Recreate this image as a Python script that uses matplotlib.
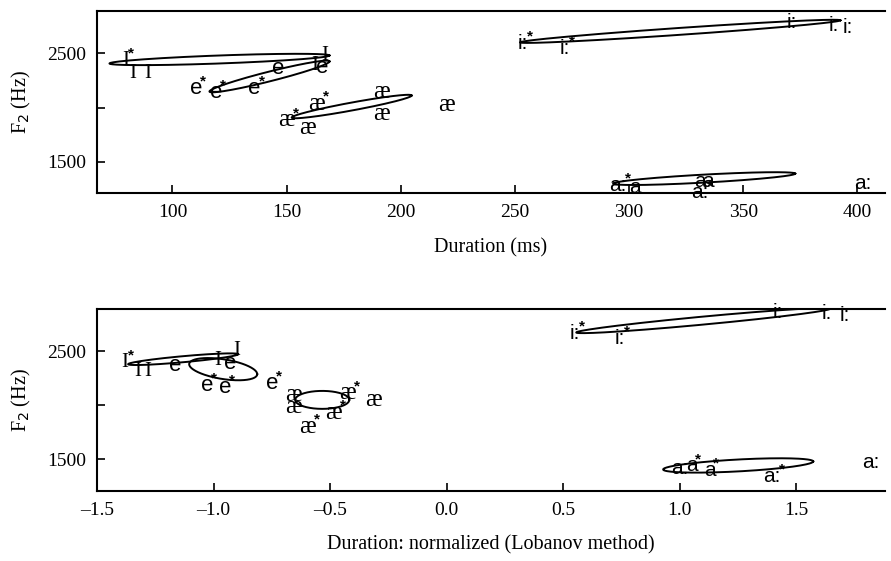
import numpy as np
import matplotlib.pyplot as plt

plt.rcParams['font.family'] = ['Liberation Serif', 'DejaVu Serif']

# top panel: vowel tokens (label, duration ms, F2 Hz, starred)
top_lab = ['I', 'I', 'I', 'I', 'I', 'e', 'e', 'e', 'e', 'e',
           'æ', 'æ', 'æ', 'æ', 'æ', 'æ',
           'i:', 'i:', 'i:', 'i:', 'i:',
           'a:', 'a', 'a', 'a', 'a:', 'a:']
top_x = [79.4, 82.5, 89.0, 166.7, 162.3, 165.8, 146.1, 110.5, 119.3, 136.0,
         163.2, 191.7, 191.7, 220.2, 150.0, 159.2,
         253.5, 272.0, 371.5, 389.5, 395.6,
         295.2, 302.5, 331.1, 334.6, 331.1, 402.6]
top_y = [2435, 2315, 2315, 2481, 2389, 2370, 2361, 2176, 2139, 2176,
         2037, 2139, 1944, 2019, 1880, 1815,
         2593, 2546, 2787, 2759, 2741,
         1278, 1265, 1320, 1320, 1210, 1296]
top_star = [1, 0, 0, 0, 0, 0, 0, 1, 1, 1,
            1, 0, 0, 0, 1, 0,
            1, 1, 0, 0, 0,
            1, 0, 0, 0, 1, 0]

# top panel ellipses: centre, half major axis vector, half height
top_ell_cx = [120.6, 142.5, 178.5, 322.4, 332.9]
top_ell_cy = [2444, 2287, 2009, 2704, 1343]
top_ell_ax = [48.2, 26.3, 26.3, 70.2, 39.9]
top_ell_ay = [37, 139, 102, 102, 46]
top_ell_h = [37, 46, 37, 32, 37]

# bottom panel: normalized duration
bot_lab = ['I', 'I', 'I', 'e', 'I', 'e', 'I', 'e', 'e', 'e',
           'æ', 'æ', 'æ', 'æ', 'æ', 'æ',
           'i:', 'i:', 'i:', 'i:', 'i:',
           'a:', 'a', 'a', 'a:', 'a:']
bot_x = [-1.380, -1.324, -1.281, -1.165, -0.981, -0.929, -0.899, -1.028, -0.951, -0.749,
         -0.659, -0.427, -0.315, -0.659, -0.487, -0.599,
         0.552, 0.745, 1.423, 1.633, 1.710,
         1.002, 1.054, 1.130, 1.397, 1.818]
bot_y = [2399, 2317, 2317, 2372, 2417, 2390, 2509, 2188, 2170, 2207,
         2097, 2115, 2051, 1986, 1931, 1803,
         2665, 2619, 2858, 2848, 2830,
         1420, 1440, 1395, 1345, 1473]
bot_star = [1, 0, 0, 0, 0, 0, 0, 1, 1, 1,
            0, 1, 0, 0, 1, 1,
            1, 1, 0, 0, 0,
            0, 1, 1, 1, 0]

bot_ell_cx = [-1.131, -0.959, -0.534, 1.101, 1.251]
bot_ell_cy = [2427, 2335, 2051, 2784, 1445]
bot_ell_ax = [0.236, 0.146, 0.116, 0.545, 0.322]
bot_ell_ay = [46, -46, 0, 110, 37]
bot_ell_h = [28, 92, 83, 37, 55]

SANS = ['Liberation Sans', 'DejaVu Sans']
SERIF = ['Liberation Serif', 'DejaVu Serif']
# font family, size and star offset (points) per vowel symbol
glyph_style = {'I': (SERIF, 15, 4), 'e': (SANS, 16, 5), 'æ': (SERIF, 18, 7),
               'i:': (SANS, 15, 5), 'a:': (SANS, 15, 7), 'a': (SANS, 15, 4)}


def draw_panel(ax, lab, xs, ys, stars, ecx, ecy, eax, eay, eh):
    t = np.linspace(0, 2 * np.pi, 200)
    for cx, cy, a, b, h in zip(ecx, ecy, eax, eay, eh):
        ax.plot(cx + a * np.cos(t), cy + b * np.cos(t) + h * np.sin(t),
                color='black', lw=1.4)
    for s, x, y, st in zip(lab, xs, ys, stars):
        fam, fs, dx = glyph_style[s]
        ax.text(x, y, s, ha='center', va='center', fontsize=fs, family=fam)
        if st:
            ax.annotate('*', (x, y), xytext=(dx, 5), textcoords='offset points',
                        ha='center', va='center', fontsize=11, fontweight='bold',
                        family=SANS)


fig = plt.figure(figsize=(8.91, 5.61), dpi=100)
ax1 = fig.add_axes([0.109, 0.656, 0.884, 0.324])
ax2 = fig.add_axes([0.109, 0.125, 0.884, 0.324])

draw_panel(ax1, top_lab, top_x, top_y, top_star,
           top_ell_cx, top_ell_cy, top_ell_ax, top_ell_ay, top_ell_h)
draw_panel(ax2, bot_lab, bot_x, bot_y, bot_star,
           bot_ell_cx, bot_ell_cy, bot_ell_ax, bot_ell_ay, bot_ell_h)

ax1.set_xlim(67, 412)
ax1.set_xticks([100, 150, 200, 250, 300, 350, 400])
ax1.set_xlabel('Duration (ms)', fontsize=14.5, labelpad=12)
ax2.set_xlim(-1.5, 1.88)
ax2.set_xticks([-1.5, -1.0, -0.5, 0.0, 0.5, 1.0, 1.5])
ax2.set_xticklabels(['\u20131.5', '\u20131.0', '\u20130.5', '0.0', '0.5', '1.0', '1.5'])
ax2.set_xlabel('Duration: normalized (Lobanov method)', fontsize=14.5, labelpad=12)

for ax in (ax1, ax2):
    ax.set_ylim(1210, 2890)
    ax.set_yticks([1500, 2500])
    ax.set_yticks([2000], minor=True)
    ax.set_ylabel('F$_2$ (Hz)', fontsize=14.5, labelpad=10)
    ax.spines['right'].set_visible(False)
    for sp in ax.spines.values():
        sp.set_linewidth(1.5)
    ax.tick_params(direction='in', length=6, width=1.2, labelsize=14, pad=8)
    ax.tick_params(which='minor', direction='in', length=6, width=1.2)

fig.savefig('out.png', dpi=100)
